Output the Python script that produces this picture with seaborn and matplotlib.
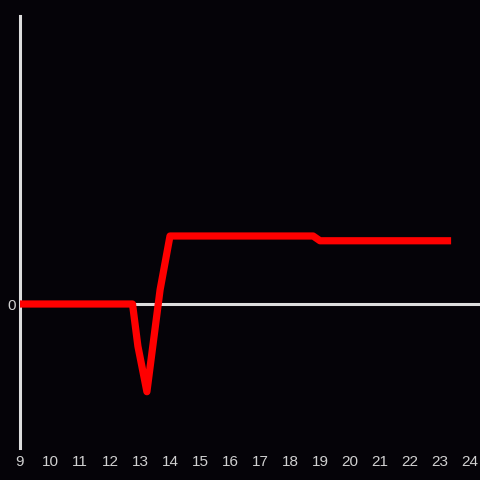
import numpy as np
import pandas as pd
import matplotlib
matplotlib.use('Agg')
import matplotlib.pyplot as plt
import seaborn as sns

# Data (hour of day vs. value)
hours = [9.0, 12.75, 12.93, 13.23, 13.67, 14.0, 18.77, 19.0, 23.25]
values = [0.0, 0.0, -0.62, -1.29, 0.21, 1.0, 1.0, 0.93, 0.93]
x_ticks = list(range(9, 25))

bg = '#050308'
fg = '#dddddd'

sns.set_style('dark')
plt.rcParams['font.family'] = ['Liberation Sans', 'DejaVu Sans']

fig = plt.figure(figsize=(4.8, 4.8), dpi=100, facecolor=bg)
ax = fig.add_axes([20 / 480, 32 / 480, 460 / 480, 432 / 480])
ax.set_facecolor(bg)

df = pd.DataFrame({'hour': hours, 'value': values})
ax.axhline(0, color=fg, linewidth=2.2, zorder=1)
sns.lineplot(data=df, x='hour', y='value', ax=ax, color='#ff0000',
             linewidth=5.2, zorder=3, solid_joinstyle='round',
             solid_capstyle='projecting')

ax.set_xlim(9, 9 + 460 / 30)
ax.set_ylim(-144 / 68, 288 / 68)
ax.set_xticks(x_ticks)
ax.set_yticks([0])
ax.set_xlabel('')
ax.set_ylabel('')
ax.grid(False)

for side in ['top', 'right', 'bottom']:
    ax.spines[side].set_visible(False)
ax.spines['left'].set_color(fg)
ax.spines['left'].set_linewidth(2.2)

ax.tick_params(axis='both', length=0, colors='#d0d0d0', labelsize=11, pad=5)
ax.tick_params(axis='y', pad=3)

fig.savefig('out.png', dpi=100, facecolor=bg)
